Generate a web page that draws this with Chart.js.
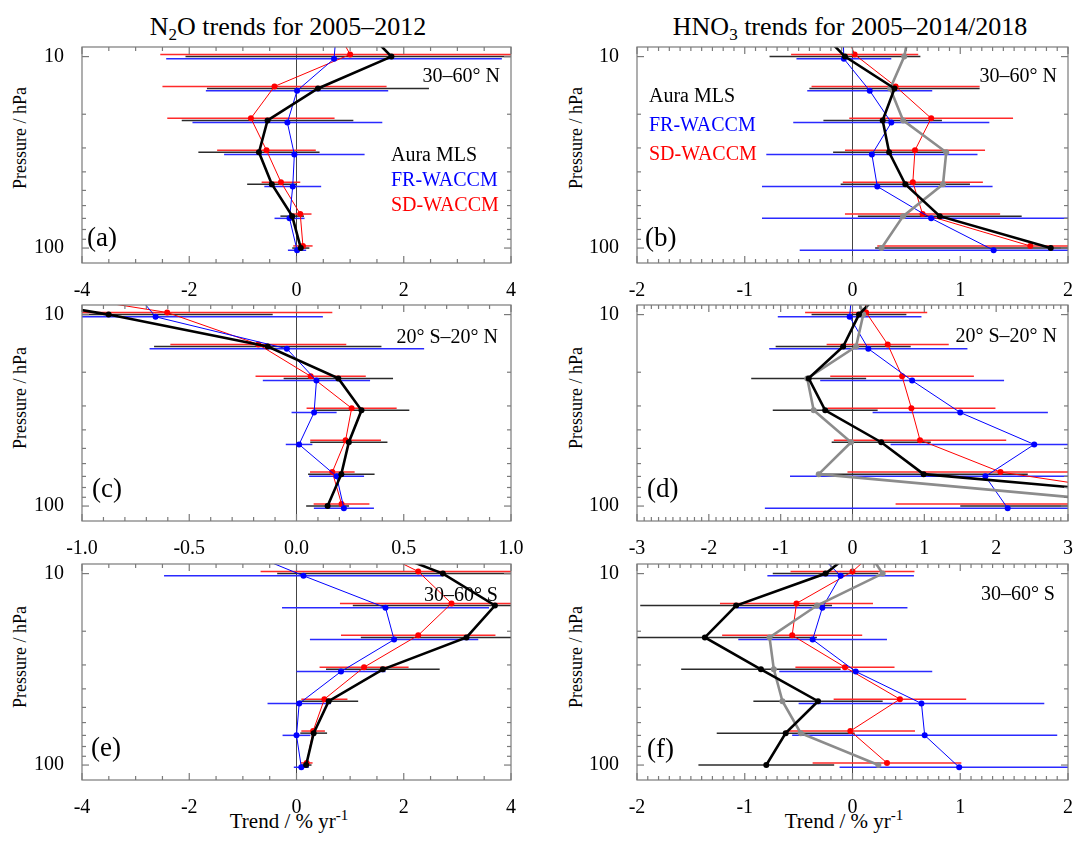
<!DOCTYPE html>
<html>
<head>
<meta charset="utf-8">
<title>N2O and HNO3 trends</title>
<script src="https://cdn.jsdelivr.net/npm/chart.js@4.4.1/dist/chart.umd.min.js"></script>
<style>
  html, body { margin: 0; padding: 0; background: #fff; }
  body { width: 1073px; height: 841px; position: relative; overflow: hidden;
         font-family: "Liberation Serif", "DejaVu Serif", serif; color: #000; }
  .box { position: absolute; }
  .t { position: absolute; white-space: nowrap; line-height: 1; }
  .title { font-size: 26px; transform: translateX(-50%); }
  .title sub { font-size: 17px; vertical-align: -5px; line-height: 0; }
  .ylab { font-size: 18px; transform: translate(-50%, -50%) rotate(-90deg); }
  .xlab { font-size: 21px; transform: translate(-50%, -50%); }
  .xlab sup { font-size: 15px; vertical-align: 8px; line-height: 0; }
  .region { font-size: 20px; }
  .letter { font-size: 27px; }
  .leg { font-size: 20px; }
</style>
</head>
<body>
<div class="t title" style="left:288px; top:14px">N<sub>2</sub>O trends for 2005–2012</div>
<div class="t title" style="left:850px; top:14px">HNO<sub>3</sub> trends for 2005–2014/2018</div>

<div class="t ylab" style="left:20px; top:138px">Pressure / hPa</div>
<div class="t ylab" style="left:20px; top:398px">Pressure / hPa</div>
<div class="t ylab" style="left:20px; top:657px">Pressure / hPa</div>
<div class="t ylab" style="left:576px; top:138px">Pressure / hPa</div>
<div class="t ylab" style="left:576px; top:398px">Pressure / hPa</div>
<div class="t ylab" style="left:576px; top:657px">Pressure / hPa</div>

<div class="t xlab" style="left:289px; top:821px">Trend / % yr<sup>-1</sup></div>
<div class="t xlab" style="left:844px; top:821px">Trend / % yr<sup>-1</sup></div>

<script>
// pressure levels (hPa); first level sits above the plotted range and only shapes the top segment
const pressureLevels = [6.81, 10, 14.68, 21.54, 31.62, 46.42, 68.13, 100];
const yMajorTicks = [10, 100];
const yMinorTicks = [20, 30, 40, 50, 60, 70, 80, 90];
const yMin = 8.91;
const yMax = 119.7;

// (a) N2O 30-60 N
const aMls = [1.19, 1.77, 0.40, -0.54, -0.70, -0.46, -0.08, 0.08];
const aMlsErr = [0, 3.84, 2.07, 1.60, 1.13, 0.46, 0.22, 0.16];
const aFr = [0.75, 0.70, 0.01, -0.17, -0.04, -0.07, -0.13, 0.01];
const aFrErr = [0, 3.13, 1.70, 1.77, 1.31, 0.53, 0.28, 0.17];
const aSd = [0.67, 1.00, -0.41, -0.85, -0.56, -0.29, 0.07, 0.12];
const aSdErr = [0, 3.54, 2.09, 1.56, 0.92, 0.36, 0.21, 0.18];

// (b) HNO3 30-60 N
const bMls = [-0.36, -0.07, 0.39, 0.28, 0.34, 0.49, 0.81, 1.84];
const bMlsErr = [0, 0.70, 0.79, 0.55, 0.52, 0.60, 0.76, 1.63];
const bMlsLong = [0.54, 0.48, 0.35, 0.47, 0.87, 0.84, 0.47, 0.27];
const bFr = [-0.09, -0.08, 0.16, 0.36, 0.18, 0.23, 0.73, 1.31];
const bFrErr = [0, 0.44, 0.58, 0.91, 0.98, 1.07, 1.57, 1.80];
const bSd = [-0.10, 0.02, 0.40, 0.73, 0.58, 0.56, 0.65, 1.65];
const bSdErr = [0, 0.59, 0.78, 0.76, 0.65, 0.65, 0.72, 1.42];

// (c) N2O 20 S-20 N
const cMls = [-1.75, -0.876, -0.134, 0.195, 0.303, 0.244, 0.209, 0.145];
const cMlsErr = [0, 0.765, 0.53, 0.255, 0.223, 0.18, 0.155, 0.10];
const cFr = [-0.78, -0.657, -0.045, 0.093, 0.082, 0.012, 0.187, 0.221];
const cFrErr = [0, 0.78, 0.64, 0.25, 0.105, 0.062, 0.128, 0.14];
const cSd = [-1.54, -0.603, -0.178, 0.066, 0.257, 0.229, 0.167, 0.21];
const cSdErr = [0, 0.77, 0.41, 0.257, 0.21, 0.165, 0.104, 0.13];

// (d) HNO3 20 S-20 N
const dMls = [0.51, 0.09, -0.13, -0.61, -0.38, 0.40, 0.99, 6.0];
const dMlsErr = [0, 0.66, 0.94, 0.80, 0.73, 0.69, 1.45, 4.5];
const dMlsLong = [0.0, 0.15, 0.05, -0.63, -0.54, -0.02, -0.47, 4.4];
const dFr = [0.0, -0.04, 0.22, 0.83, 1.50, 2.53, 1.85, 2.16];
const dFrErr = [0, 1.0, 1.38, 1.28, 1.22, 2.0, 2.72, 3.38];
const dSd = [0.15, 0.19, 0.49, 0.69, 0.82, 0.94, 2.06, 5.0];
const dSdErr = [0, 0.85, 0.85, 1.0, 1.17, 1.2, 2.13, 4.4];

// (e) N2O 30-60 S
const eMls = [1.19, 2.73, 3.70, 3.17, 1.61, 0.60, 0.32, 0.18];
const eMlsErr = [0, 3.09, 2.65, 1.97, 1.06, 0.55, 0.25, 0.10];
const eFr = [-1.32, 0.13, 1.66, 1.82, 0.83, 0.05, 0.0, 0.09];
const eFrErr = [0, 2.6, 1.93, 1.57, 0.83, 0.59, 0.26, 0.14];
const eSd = [1.07, 2.27, 2.89, 2.27, 1.26, 0.52, 0.31, 0.19];
const eSdErr = [0, 2.94, 2.08, 1.44, 0.83, 0.43, 0.22, 0.11];

// (f) HNO3 30-60 S
const fMls = [0.12, -0.25, -1.08, -1.37, -0.85, -0.32, -0.62, -0.80];
const fMlsErr = [0, 0.49, 0.89, 1.04, 0.74, 0.60, 0.64, 0.63];
const fMlsLong = [0.08, 0.28, -0.33, -0.77, -0.73, -0.65, -0.48, 0.24];
const fFr = [-0.41, -0.11, -0.28, -0.37, 0.03, 0.64, 0.67, 0.99];
const fFrErr = [0, 0.68, 0.79, 0.69, 0.71, 1.14, 1.23, 1.11];
const fSd = [0.33, 0.00, -0.52, -0.56, -0.07, 0.44, -0.02, 0.32];
const fSdErr = [0, 0.575, 0.71, 0.65, 0.46, 0.615, 0.6, 0.69];

// shift = small vertical stagger of the model profiles, as in the original figure
const seriesStyle = {
  mls:  { color: "#000000", bar: "#2b2b2b", width: 2.6, radius: 3, shift: 1 },
  long: { color: "#8c8c8c", bar: null,      width: 2.6, radius: 3, shift: 1 },
  fr:   { color: "#0000ff", bar: "#2a2aff", width: 1,   radius: 3, shift: 1.027 },
  sd:   { color: "#ff0000", bar: "#ff2a2a", width: 1,   radius: 3, shift: 0.975 }
};

Chart.defaults.font.family = '"Liberation Serif", "DejaVu Serif", serif';
Chart.defaults.font.size = 20;
Chart.defaults.color = "#000";

const panelDecor = {
  id: "panelDecor",
  beforeDatasetsDraw(chart) {
    const { ctx, chartArea: a, scales: { x, y } } = chart;
    ctx.save();
    ctx.beginPath();
    ctx.rect(a.left, a.top, a.right - a.left, a.bottom - a.top);
    ctx.clip();
    const x0 = x.getPixelForValue(0);
    ctx.strokeStyle = "#444";
    ctx.lineWidth = 1;
    ctx.beginPath();
    ctx.moveTo(x0, a.top);
    ctx.lineTo(x0, a.bottom);
    ctx.stroke();
    chart.data.datasets.forEach((ds) => {
      if (!ds.errors || !ds.barColor) return;
      ctx.strokeStyle = ds.barColor;
      ctx.lineWidth = 1.5;
      ds.data.forEach((pt, i) => {
        const e = ds.errors[i];
        if (!e) return;
        const py = y.getPixelForValue(pt.y);
        ctx.beginPath();
        ctx.moveTo(x.getPixelForValue(pt.x - e), py);
        ctx.lineTo(x.getPixelForValue(pt.x + e), py);
        ctx.stroke();
      });
    });
    ctx.restore();
  },
  afterDraw(chart, args, opts) {
    const { ctx, chartArea: a, scales: { x, y } } = chart;
    ctx.save();
    ctx.strokeStyle = "#7a7a7a";
    ctx.lineWidth = 1.2;
    ctx.strokeRect(a.left, a.top, a.right - a.left, a.bottom - a.top);
    const line = (x1, y1, x2, y2) => {
      ctx.beginPath();
      ctx.moveTo(x1, y1);
      ctx.lineTo(x2, y2);
      ctx.stroke();
    };
    const n = Math.round((x.max - x.min) / opts.xMinor);
    for (let k = 0; k <= n; k++) {
      const v = x.min + k * opts.xMinor;
      const r = v / opts.xMajor;
      const len = Math.abs(r - Math.round(r)) < 1e-6 ? 7 : 4;
      const px = x.getPixelForValue(v);
      line(px, a.bottom, px, a.bottom - len);
      line(px, a.top, px, a.top + len);
    }
    const yTick = (v, len) => {
      const py = y.getPixelForValue(v);
      line(a.left, py, a.left + len, py);
      line(a.right, py, a.right - len, py);
    };
    yMajorTicks.forEach((v) => yTick(v, 7));
    yMinorTicks.forEach((v) => yTick(v, 4));
    ctx.restore();
  }
};

function buildDatasets(series) {
  return series.map((s) => {
    const st = seriesStyle[s.kind];
    return {
      data: s.vals.map((v, i) => ({ x: v, y: pressureLevels[i] * st.shift })),
      errors: s.errs || null,
      barColor: st.bar,
      borderColor: st.color,
      backgroundColor: st.color,
      pointBackgroundColor: st.color,
      pointBorderWidth: 0,
      pointRadius: st.radius,
      borderWidth: st.width,
      tension: 0
    };
  });
}

function makePanel(p) {
  const box = document.createElement("div");
  box.className = "box";
  box.style.left = (p.left - 55) + "px";
  box.style.top = (p.top - 15) + "px";
  box.style.width = (p.width + 55 + p.padRight) + "px";
  box.style.height = (p.height + 55) + "px";
  const canvas = document.createElement("canvas");
  box.appendChild(canvas);
  document.body.appendChild(box);

  new Chart(canvas, {
    type: "line",
    data: { datasets: buildDatasets(p.series) },
    options: {
      responsive: true,
      maintainAspectRatio: false,
      animation: false,
      events: [],
      layout: { padding: { left: 5, right: p.padRight, top: 15, bottom: 0 } },
      plugins: {
        legend: { display: false },
        tooltip: { enabled: false },
        panelDecor: { xMajor: p.xMajor, xMinor: p.xMinor }
      },
      scales: {
        x: {
          type: "linear",
          min: p.xMin,
          max: p.xMax,
          grid: { display: false },
          border: { display: false },
          ticks: {
            stepSize: p.xMajor,
            padding: 8,
            maxRotation: 0,
            autoSkip: false,
            callback: (v) => Number(v).toFixed(p.decimals)
          },
          afterFit: (s) => { s.height = 40; s.paddingLeft = 0; s.paddingRight = 0; }
        },
        y: {
          type: "logarithmic",
          reverse: true,
          min: yMin,
          max: yMax,
          grid: { display: false },
          border: { display: false },
          ticks: { padding: 10, autoSkip: false, callback: (v) => String(v) },
          afterBuildTicks: (s) => { s.ticks = yMajorTicks.map((v) => ({ value: v })); },
          afterFit: (s) => { s.width = 50; s.paddingTop = 0; s.paddingBottom = 0; }
        }
      }
    },
    plugins: [panelDecor]
  });
}

function addText(cls, html, style) {
  const d = document.createElement("div");
  d.className = "t " + cls;
  d.innerHTML = html;
  Object.assign(d.style, style);
  document.body.appendChild(d);
}

const leftCol = { left: 82, width: 429, padRight: 25 };
const rightCol = { left: 637, width: 431, padRight: 5 };
const rowTops = [47, 305, 564];
const rowHeight = 216;

const panels = [
  { col: leftCol, row: 0, xMin: -4, xMax: 4, xMajor: 2, xMinor: 0.5, decimals: 0,
    series: [
      { kind: "mls", vals: aMls, errs: aMlsErr },
      { kind: "fr", vals: aFr, errs: aFrErr },
      { kind: "sd", vals: aSd, errs: aSdErr }
    ] },
  { col: rightCol, row: 0, xMin: -2, xMax: 2, xMajor: 1, xMinor: 0.1, decimals: 0,
    series: [
      { kind: "mls", vals: bMls, errs: bMlsErr },
      { kind: "long", vals: bMlsLong },
      { kind: "fr", vals: bFr, errs: bFrErr },
      { kind: "sd", vals: bSd, errs: bSdErr }
    ] },
  { col: leftCol, row: 1, xMin: -1, xMax: 1, xMajor: 0.5, xMinor: 0.1, decimals: 1,
    series: [
      { kind: "mls", vals: cMls, errs: cMlsErr },
      { kind: "fr", vals: cFr, errs: cFrErr },
      { kind: "sd", vals: cSd, errs: cSdErr }
    ] },
  { col: rightCol, row: 1, xMin: -3, xMax: 3, xMajor: 1, xMinor: 0.1, decimals: 0,
    series: [
      { kind: "mls", vals: dMls, errs: dMlsErr },
      { kind: "long", vals: dMlsLong },
      { kind: "fr", vals: dFr, errs: dFrErr },
      { kind: "sd", vals: dSd, errs: dSdErr }
    ] },
  { col: leftCol, row: 2, xMin: -4, xMax: 4, xMajor: 2, xMinor: 0.5, decimals: 0,
    series: [
      { kind: "mls", vals: eMls, errs: eMlsErr },
      { kind: "fr", vals: eFr, errs: eFrErr },
      { kind: "sd", vals: eSd, errs: eSdErr }
    ] },
  { col: rightCol, row: 2, xMin: -2, xMax: 2, xMajor: 1, xMinor: 0.1, decimals: 0,
    series: [
      { kind: "mls", vals: fMls, errs: fMlsErr },
      { kind: "long", vals: fMlsLong },
      { kind: "fr", vals: fFr, errs: fFrErr },
      { kind: "sd", vals: fSd, errs: fSdErr }
    ] }
];

panels.forEach((p) => {
  makePanel(Object.assign({}, p, {
    left: p.col.left, width: p.col.width, padRight: p.col.padRight,
    top: rowTops[p.row], height: rowHeight
  }));
});

// region labels, panel letters, legends
addText("region", "30–60° N", { right: "573px", top: "65px" });
addText("region", "30–60° N", { right: "16px", top: "65px" });
addText("region", "20° S–20° N", { right: "575px", top: "326px" });
addText("region", "20° S–20° N", { right: "16px", top: "325px" });
addText("region", "30–60° S", { right: "575px", top: "584px" });
addText("region", "30–60° S", { right: "18px", top: "583px" });

addText("letter", "(a)", { left: "87px", top: "224px" });
addText("letter", "(b)", { left: "645px", top: "224px" });
addText("letter", "(c)", { left: "92px", top: "475px" });
addText("letter", "(d)", { left: "647px", top: "475px" });
addText("letter", "(e)", { left: "91px", top: "734px" });
addText("letter", "(f)", { left: "647px", top: "735px" });

addText("leg", "Aura MLS", { left: "391px", top: "144px", color: "#000" });
addText("leg", "FR-WACCM", { left: "391px", top: "169px", color: "#0000ff" });
addText("leg", "SD-WACCM", { left: "391px", top: "194px", color: "#ff0000" });
addText("leg", "Aura MLS", { left: "649px", top: "85px", color: "#000" });
addText("leg", "FR-WACCM", { left: "649px", top: "114px", color: "#0000ff" });
addText("leg", "SD-WACCM", { left: "649px", top: "143px", color: "#ff0000" });
</script>
</body>
</html>
